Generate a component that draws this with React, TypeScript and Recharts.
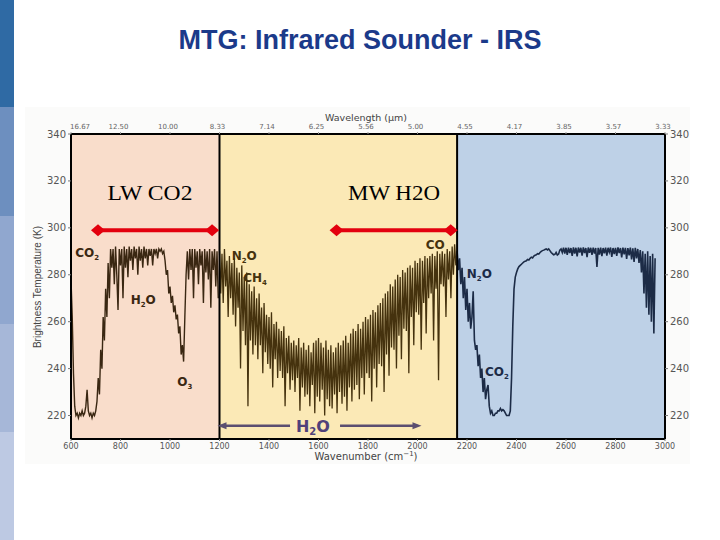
import {
  ComposedChart,
  Line,
  XAxis,
  YAxis,
  ReferenceArea,
  ReferenceLine,
  ReferenceDot,
} from "recharts";

// brightness temperature spectrum (K), sampled every 5 cm-1
const WN_STEP = 5;

const lwStart = 600;
const lwBt = [
  278, 262, 238, 224, 220, 221, 219, 221, 220, 222,
  220, 221, 224, 231, 222, 220, 221, 219, 221, 220,
  222, 226, 236, 229, 248, 240, 262, 252, 274, 262,
  285, 270, 291, 283, 291, 276, 292, 280, 265, 291,
  284, 291, 270, 292, 283, 291, 279, 292, 286, 291,
  282, 292, 287, 291, 280, 292, 286, 291, 283, 292,
  287, 291, 284, 291, 288, 291, 284, 291, 289, 291,
  287, 291, 290, 291, 289, 290, 286, 280, 282, 272,
  275, 268, 271, 264, 267, 261, 263, 255, 258, 246,
  250, 243, 262, 280, 290, 278, 291, 282, 291, 270,
  291, 283, 290, 276, 291, 284, 290, 268, 291, 281,
  290, 278, 291, 266, 290, 282, 291, 275, 290, 270,
];

const mwStart = 1200;
const mwBt = [
  290, 272, 289, 268, 291, 275, 286, 262, 288, 270,
  285, 263, 287, 258, 283, 266, 281, 240, 284, 256,
  279, 250, 281, 224, 276, 252, 273, 246, 275, 250,
  270, 244, 272, 250, 266, 238, 268, 247, 263, 242,
  262, 240, 264, 232, 259, 244, 260, 236, 257, 239,
  256, 236, 258, 224, 253, 238, 254, 231, 251, 235,
  252, 230, 250, 236, 253, 222, 249, 232, 251, 228,
  248, 229, 250, 224, 247, 233, 251, 221, 252, 228,
  253, 226, 251, 231, 249, 220, 252, 227, 248, 224,
  250, 223, 247, 229, 249, 221, 251, 230, 250, 225,
  252, 228, 254, 222, 251, 232, 255, 226, 257, 231,
  256, 233, 259, 227, 257, 236, 260, 229, 262, 238,
  261, 236, 263, 226, 265, 240, 264, 232, 267, 242,
  268, 241, 270, 230, 272, 246, 273, 237, 276, 249,
  275, 248, 278, 240, 280, 254, 279, 244, 282, 257,
  281, 256, 283, 238, 284, 262, 283, 250, 286, 264,
  285, 263, 287, 248, 286, 268, 288, 255, 287, 270,
  288, 272, 289, 252, 288, 274, 290, 235, 289, 276,
  290, 275, 289, 262, 291, 278, 290, 270, 292, 280,
  293, 284,
];

const swStart = 2160;
const swBt = [
  290, 282, 287, 276, 283, 270, 279, 265, 274, 260,
  268, 257, 262, 273, 252, 248, 250, 241, 246, 236,
  240, 230, 236, 227, 231, 233, 224, 221, 222, 220,
  220, 221, 221, 222, 222, 223, 222, 222.5, 222, 221,
  220, 220, 220, 222, 236, 258, 274, 279, 281, 282.5,
  283.5, 284, 284.5, 285, 285.5, 285.8, 286, 286.5, 286.3, 287,
  287.5, 287.2, 288, 288.3, 288.5, 289, 288.8, 289.5, 290, 290.3,
  290.5, 290.8, 291, 290.6, 291, 290.3, 289.5, 289, 288.5, 288.7,
  289.5, 288.4, 288.8, 290.5, 291, 289.5, 291.5, 289, 291.5, 288.5,
  291.6, 289.3, 291.4, 288, 291.7, 289, 291.5, 287.8, 291.6, 289.5,
  291.5, 288.2, 291.7, 289.2, 291.4, 287.5, 291.6, 289.4, 291.5, 288.5,
  291.6, 289, 291.4, 283.3, 291.5, 288.6, 291.6, 287.9, 291.4, 289.1,
  291.6, 288.2, 291.5, 289.6, 291.6, 287.6, 291.4, 288.8, 291.5, 288,
  291.7, 289.2, 291.4, 287.4, 291.6, 288.7, 291.5, 286.8, 291.4, 288.3,
  291.6, 286.5, 291.3, 285.5, 291.5, 287, 291, 285, 290.5, 281,
  290, 272, 289, 266, 290, 263, 288, 260, 289, 255,
  287,
];

const wavenumberTicks = [600, 800, 1000, 1200, 1400, 1600, 1800, 2000, 2200, 2400, 2600, 2800, 3000];
const wavelengthLabels = ["16.67", "12.50", "10.00", "8.33", "7.14", "6.25", "5.56", "5.00", "4.55", "4.17", "3.85", "3.57", "3.33"];
const btTicks = [220, 240, 260, 280, 300, 320, 340];

// spectral bands: LW | MW | SW
const bandEdges = [600, 1200, 2160, 3000];

// IRS channels and their coverage
const channelNames = ["LW CO2", "MW H2O"];
const channelRanges = [
  [709, 1170],
  [1673, 2134],
];
const channelLevel = 299;

// absorber labels: [gas, subscript, tail]
const gasNames = [
  ["CO", "2", ""],
  ["H", "2", "O"],
  ["O", "3", ""],
  ["N", "2", "O"],
  ["CH", "4", ""],
  ["CO", "", ""],
  ["N", "2", "O"],
  ["CO", "2", ""],
];

const bandFills = ["#f9ddcb", "#fbe9b6", "#bed1e7"];
const lwColor = "#3a2712";
const mwColor = "#45320e";
const swColor = "#1c2b46";
const red = "#e3000e";
const arrowColor = "#5b4e70";

const gasSpots = [
  { wn: 617, bt: 287.5, color: lwColor },
  { wn: 841, bt: 267.4, color: lwColor },
  { wn: 1029, bt: 232.7, color: lwColor },
  { wn: 1249, bt: 286.1, color: mwColor },
  { wn: 1296, bt: 277, color: mwColor },
  { wn: 2033, bt: 290.8, color: mwColor },
  { wn: 2199, bt: 278.7, color: swColor },
  { wn: 2273, bt: 237, color: swColor },
];
const channelText = [
  { wn: 919, bt: 312, width: 85 },
  { wn: 1905, bt: 312, width: 92 },
];

const toSeries = (start: number, values: number[]) =>
  values.map((bt, i) => ({ wn: start + i * WN_STEP, bt }));

const Diamond = (props: any) => {
  const { cx, cy, index } = props;
  return (
    <polygon
      key={`d${index}`}
      points={`${cx - 7},${cy} ${cx},${cy - 6} ${cx + 7},${cy} ${cx},${cy + 6}`}
      fill={red}
    />
  );
};

const GasText = ({ cx, cy, parts, color }: any) => (
  <text x={cx} y={cy} fill={color} fontFamily="DejaVu Sans" fontWeight="bold" fontSize={12}>
    {parts[0]}
    {parts[1] && (
      <tspan dy={3} fontSize={7}>
        {parts[1]}
      </tspan>
    )}
    {parts[2] && <tspan dy={-3}>{parts[2]}</tspan>}
  </text>
);

// wavelength labels along the top edge; the first one is kept clear of the 340 tick
const WavelengthTick = (props: any) => {
  const { x, y, index } = props;
  return (
    <text
      x={index === 0 ? x - 1 : x - 2}
      y={y}
      textAnchor={index === 0 ? "start" : "middle"}
      fontSize={7}
      fill="#666"
      fontFamily="DejaVu Sans"
    >
      {wavelengthLabels[index]}
    </text>
  );
};

const sideBar = ["#2f6aa4", "#6d8fbf", "#90a7cf", "#a6b7d8", "#bdc9e3"];
const sideBarStops = [0, 107, 216, 324, 432, 540];

export default function App() {
  const h2oBand = [
    { wn: 1485, bt: 215.6 },
    { wn: 1208, bt: 215.6 },
  ];
  const h2oBandRight = [
    { wn: 1687, bt: 215.6 },
    { wn: 2000, bt: 215.6 },
  ];

  return (
    <div style={{ position: "absolute", left: 0, top: 0, width: 720, height: 540, background: "#fff" }}>
      {sideBar.map((c, i) => (
        <div
          key={c}
          style={{
            position: "absolute",
            left: 0,
            top: sideBarStops[i],
            width: 14,
            height: sideBarStops[i + 1] - sideBarStops[i],
            background: c,
          }}
        />
      ))}
      <div
        style={{
          position: "absolute",
          left: 25,
          top: 107,
          width: 665,
          height: 357,
          background: "#fbfbfa",
        }}
      />
      <div style={{ position: "absolute", left: 0, top: 0 }}>
        <ComposedChart width={720} height={540} margin={{ top: 114, right: 25, bottom: 81, left: 41 }}>
          <XAxis
            xAxisId="bottom"
            dataKey="wn"
            type="number"
            domain={[600, 3000]}
            ticks={wavenumberTicks}
            allowDataOverflow
            height={20}
            axisLine={{ stroke: "#000", strokeWidth: 2 }}
            tickLine={{ stroke: "#777" }}
            tickSize={2}
            tick={{ fontSize: 8, fill: "#555", fontFamily: "DejaVu Sans" }}
          />
          <XAxis
            xAxisId="top"
            orientation="top"
            dataKey="wn"
            type="number"
            domain={[600, 3000]}
            ticks={wavenumberTicks}
            allowDataOverflow
            interval={0}
            height={20}
            axisLine={{ stroke: "#000", strokeWidth: 2 }}
            tickLine={{ stroke: "#999" }}
            tickSize={2}
            tickMargin={3}
            tick={WavelengthTick}
          />
          <YAxis
            yAxisId="left"
            type="number"
            domain={[210, 340]}
            ticks={btTicks}
            allowDataOverflow
            width={30}
            axisLine={{ stroke: "#000", strokeWidth: 2 }}
            tickLine={{ stroke: "#777" }}
            tickSize={3}
            tick={{ fontSize: 10, fill: "#555", fontFamily: "DejaVu Sans" }}
          />
          <YAxis
            yAxisId="right"
            orientation="right"
            type="number"
            domain={[210, 340]}
            ticks={btTicks}
            allowDataOverflow
            width={30}
            axisLine={{ stroke: "#000", strokeWidth: 2 }}
            tickLine={{ stroke: "#777" }}
            tickSize={3}
            tick={{ fontSize: 10, fill: "#555", fontFamily: "DejaVu Sans" }}
          />

          {bandFills.map((fill, i) => (
            <ReferenceArea
              key={fill}
              xAxisId="bottom"
              yAxisId="left"
              x1={bandEdges[i]}
              x2={bandEdges[i + 1]}
              y1={210}
              y2={340}
              fill={fill}
              fillOpacity={1}
              stroke="none"
            />
          ))}

          <Line
            xAxisId="bottom"
            yAxisId="left"
            data={toSeries(lwStart, lwBt)}
            dataKey="bt"
            stroke={lwColor}
            strokeWidth={1.4}
            dot={false}
            isAnimationActive={false}
          />
          <Line
            xAxisId="bottom"
            yAxisId="left"
            data={toSeries(mwStart, mwBt)}
            dataKey="bt"
            stroke={mwColor}
            strokeWidth={1.3}
            dot={false}
            isAnimationActive={false}
          />
          <Line
            xAxisId="bottom"
            yAxisId="left"
            data={toSeries(swStart, swBt)}
            dataKey="bt"
            stroke={swColor}
            strokeWidth={1.6}
            dot={false}
            isAnimationActive={false}
          />

          {bandEdges.slice(1, 3).map((x) => (
            <ReferenceLine key={x} xAxisId="bottom" yAxisId="left" x={x} stroke="#000" strokeWidth={2} />
          ))}

          {channelRanges.map((r, i) => (
            <Line
              key={channelNames[i]}
              xAxisId="bottom"
              yAxisId="left"
              data={r.map((wn) => ({ wn, bt: channelLevel }))}
              dataKey="bt"
              stroke={red}
              strokeWidth={4}
              dot={Diamond}
              isAnimationActive={false}
            />
          ))}
          {channelNames.map((name, i) => (
            <ReferenceDot
              key={name}
              xAxisId="bottom"
              yAxisId="left"
              x={channelText[i].wn}
              y={channelText[i].bt}
              r={1}
              shape={(p: any) => (
                <text
                  x={p.cx}
                  y={p.cy}
                  textAnchor="middle"
                  fontFamily="Liberation Serif"
                  fontSize={21}
                  textLength={channelText[i].width}
                  lengthAdjust="spacingAndGlyphs"
                  fill="#000"
                >
                  {name}
                </text>
              )}
            />
          ))}

          {gasNames.map((parts, i) => (
            <ReferenceDot
              key={`g${i}`}
              xAxisId="bottom"
              yAxisId="left"
              x={gasSpots[i].wn}
              y={gasSpots[i].bt}
              r={1}
              shape={(p: any) => <GasText cx={p.cx} cy={p.cy} parts={parts} color={gasSpots[i].color} />}
            />
          ))}

          <Line
            xAxisId="bottom"
            yAxisId="left"
            data={h2oBand}
            dataKey="bt"
            stroke={arrowColor}
            strokeWidth={2.5}
            dot={false}
            isAnimationActive={false}
          />
          <Line
            xAxisId="bottom"
            yAxisId="left"
            data={h2oBandRight}
            dataKey="bt"
            stroke={arrowColor}
            strokeWidth={2.5}
            dot={false}
            isAnimationActive={false}
          />
          <ReferenceDot
            xAxisId="bottom"
            yAxisId="left"
            x={h2oBand[1].wn}
            y={h2oBand[1].bt}
            r={1}
            shape={(p: any) => (
              <polygon
                points={`${p.cx - 4},${p.cy} ${p.cx + 5},${p.cy - 3.5} ${p.cx + 5},${p.cy + 3.5}`}
                fill={arrowColor}
              />
            )}
          />
          <ReferenceDot
            xAxisId="bottom"
            yAxisId="left"
            x={h2oBandRight[1].wn}
            y={h2oBandRight[1].bt}
            r={1}
            shape={(p: any) => (
              <polygon
                points={`${p.cx + 4},${p.cy} ${p.cx - 5},${p.cy - 3.5} ${p.cx - 5},${p.cy + 3.5}`}
                fill={arrowColor}
              />
            )}
          />
          <ReferenceDot
            xAxisId="bottom"
            yAxisId="left"
            x={1509}
            y={213.1}
            r={1}
            shape={(p: any) => (
              <text x={p.cx} y={p.cy} fill="#4f417a" fontFamily="DejaVu Sans" fontWeight={600} fontSize={16}>
                H
                <tspan dy={3} fontSize={10}>
                  2
                </tspan>
                <tspan dy={-3}>O</tspan>
              </text>
            )}
          />
        </ComposedChart>
      </div>

      <svg
        width={720}
        height={540}
        style={{ position: "absolute", left: 0, top: 0, pointerEvents: "none" }}
      >
        <text
          x={360}
          y={49}
          textAnchor="middle"
          fontFamily="Liberation Sans"
          fontWeight="bold"
          fontSize={27}
          fill="#1b3a8a"
        >
          MTG: Infrared Sounder - IRS
        </text>
        <text x={366} y={121} textAnchor="middle" fontFamily="DejaVu Sans" fontSize={9.5} fill="#444">
          Wavelength (µm)
        </text>
        <text x={366} y={460} textAnchor="middle" fontFamily="DejaVu Sans" fontSize={10} fill="#444">
          Wavenumber (cm
          <tspan dy={-4} fontSize={7}>
            −1
          </tspan>
          <tspan dy={4}>)</tspan>
        </text>
        <text
          x={0}
          y={0}
          transform="translate(41 287) rotate(-90)"
          textAnchor="middle"
          fontFamily="Liberation Sans Narrow, Liberation Sans"
          fontSize={10}
          fill="#444"
        >
          Brightness Temperature (K)
        </text>
      </svg>
    </div>
  );
}
